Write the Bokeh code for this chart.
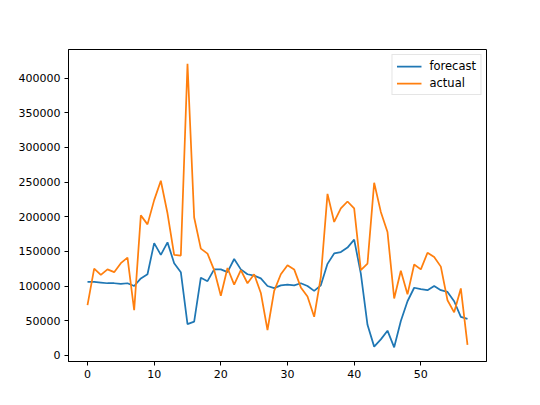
from bokeh.plotting import figure
from bokeh.models import Range1d, FixedTicker, PrintfTickFormatter, Legend, LegendItem
from bokeh.embed import file_html
from bokeh.resources import INLINE

index = list(range(58))
forecast = [106000, 106000, 105000, 104000, 104000, 103000, 104000, 100000, 111000, 117000,
            162000, 145000, 163000, 133000, 120000, 45000, 48500, 112000, 107000, 124000,
            124000, 120000, 139000, 124000, 117000, 115000, 111000, 100000, 97000, 101000,
            102000, 101000, 104000, 100000, 93000, 101000, 132000, 147000, 149000, 155500,
            167000, 118000, 44000, 12500, 23000, 35500, 11500, 49500, 78000, 97500,
            95500, 94000, 100000, 94000, 91500, 78000, 55500, 52500]
actual = [72500, 125000, 116000, 124000, 120000, 133000, 141000, 65000, 202000, 189000,
          224000, 252000, 205000, 145000, 144000, 421000, 199000, 154000, 146800, 123000,
          86000, 126000, 102000, 123000, 104000, 117000, 90000, 36500, 93000, 117000,
          130000, 124000, 98000, 85000, 55500, 113000, 233000, 192500, 212000, 222000,
          212000, 123000, 132500, 249000, 207000, 178000, 82000, 122000, 88000, 131000,
          124000, 148000, 142000, 128000, 79500, 62000, 96500, 15000]
x_ticks = [0, 10, 20, 30, 40, 50]
y_ticks = [0, 50000, 100000, 150000, 200000, 250000, 300000, 350000, 400000]
series_names = ["forecast", "actual"]
series_colors = ["#1f77b4", "#ff7f0e"]

xmin, xmax = min(index), max(index)
xpad = 0.05 * (xmax - xmin)
allv = forecast + actual
ymin, ymax = min(allv), max(allv)
ypad = 0.05 * (ymax - ymin)

p = figure(width=524, height=389, output_backend="svg", toolbar_location=None,
           x_range=Range1d(xmin - xpad, xmax + xpad),
           y_range=Range1d(ymin - ypad, ymax + ypad),
           min_border_left=68, min_border_right=38, min_border_top=49, min_border_bottom=28)

p.xgrid.visible = False
p.ygrid.visible = False
p.outline_line_color = "black"
p.outline_line_width = 1
p.background_fill_color = "white"
p.border_fill_color = "white"

r1 = p.line(index, forecast, line_color=series_colors[0], line_width=1.75)
r2 = p.line(index, actual, line_color=series_colors[1], line_width=1.75)

p.xaxis.ticker = FixedTicker(ticks=x_ticks)
p.yaxis.ticker = FixedTicker(ticks=y_ticks)
p.yaxis.formatter = PrintfTickFormatter(format="%d")
for ax in [p.xaxis[0], p.yaxis[0]]:
    ax.axis_line_color = "black"
    ax.major_tick_line_color = "black"
    ax.minor_tick_line_color = None
    ax.major_tick_out = 4
    ax.major_tick_in = 0
    ax.major_label_text_font = "DejaVu Sans"
    ax.major_label_text_font_size = "11px"
    ax.major_label_text_color = "black"
    ax.major_label_standoff = 4

legend = Legend(items=[LegendItem(label=series_names[0], renderers=[r1]),
                       LegendItem(label=series_names[1], renderers=[r2])],
                location="top_right")
legend.label_text_font = "DejaVu Sans"
legend.label_text_font_size = "11.5px"
legend.label_text_color = "black"
legend.border_line_color = "#cccccc"
legend.border_line_width = 1
legend.background_fill_alpha = 0.8
legend.glyph_width = 25
legend.glyph_height = 14
legend.label_height = 14
legend.label_standoff = 8
legend.spacing = 3
legend.padding = 4
legend.margin = 5
p.add_layout(legend)

open("out.html", "w").write(file_html(p, INLINE))
